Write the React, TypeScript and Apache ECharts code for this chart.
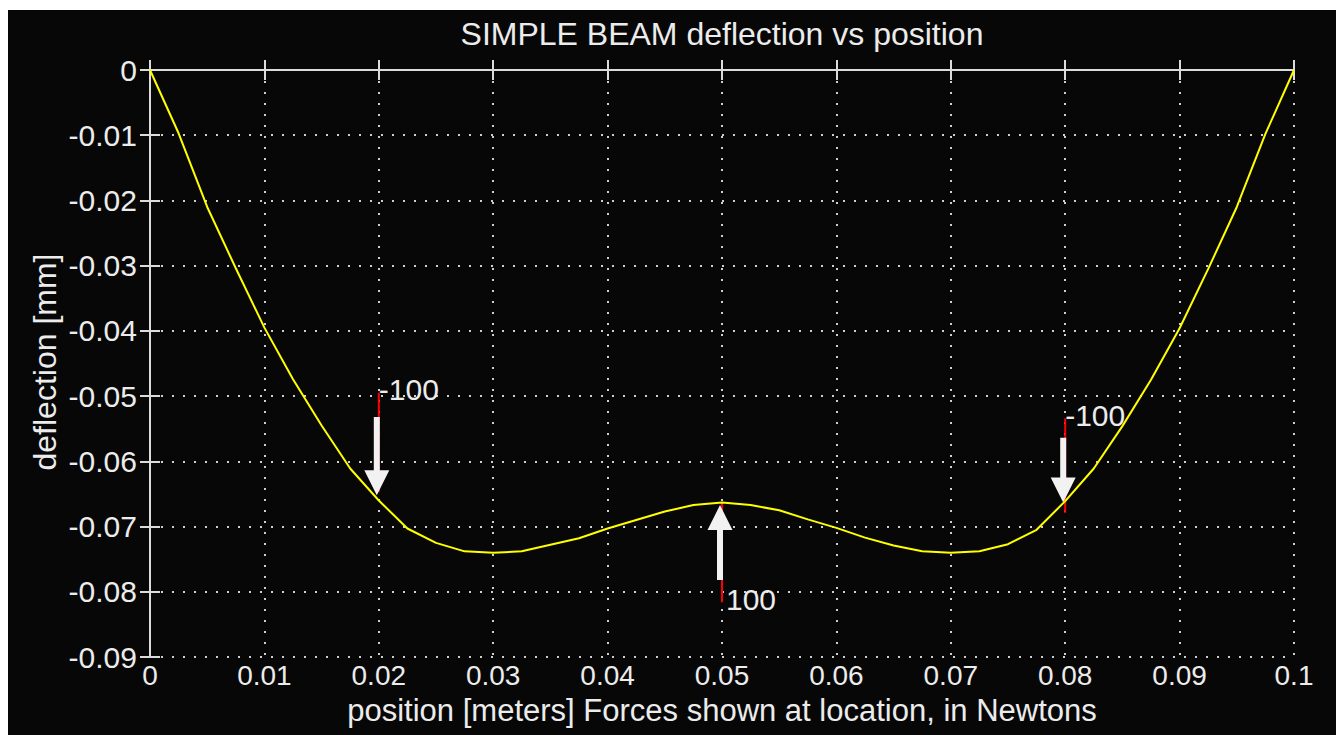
import React, { useEffect, useRef } from "react";
import * as echarts from "echarts";

// ---- data ----
const titleText = "SIMPLE BEAM deflection vs position";
const xAxisTitle = "position [meters] Forces shown at location, in Newtons";
const yAxisTitle = "deflection [mm]";

const positions = [
  0, 0.0025, 0.005, 0.0075, 0.01, 0.0125, 0.015, 0.0175, 0.02, 0.0225, 0.025,
  0.0275, 0.03, 0.0325, 0.035, 0.0375, 0.04, 0.0425, 0.045, 0.0475, 0.05,
  0.0525, 0.055, 0.0575, 0.06, 0.0625, 0.065, 0.0675, 0.07, 0.0725, 0.075,
  0.0775, 0.08, 0.0825, 0.085, 0.0875, 0.09, 0.0925, 0.095, 0.0975, 0.1,
];
const deflection = [
  0, -0.0097, -0.021, -0.0304, -0.0395, -0.0474, -0.0545, -0.0611, -0.066,
  -0.0703, -0.0725, -0.0738, -0.074, -0.0738, -0.0728, -0.0718, -0.0703,
  -0.069, -0.0677, -0.0667, -0.0663, -0.0667, -0.0675, -0.0689, -0.0702,
  -0.0717, -0.0729, -0.0738, -0.074, -0.0738, -0.0727, -0.0705, -0.0661,
  -0.0611, -0.0546, -0.0475, -0.0396, -0.0305, -0.021, -0.0098, 0,
];

// forces: location, value [N], red marker ends, white arrow tail/tip (deflection units)
const forceX = [0.02, 0.05, 0.08];
const forceN = [-100, 100, -100];
const markerFrom = [-0.0495, -0.0816, -0.0534];
const markerTo = [-0.0647, -0.0663, -0.0679];
const arrowTail = [-0.0532, -0.0782, -0.0564];
const arrowTip = [-0.0652, -0.0667, -0.0663];

const FONT = "'Liberation Sans', Arial, Helvetica, sans-serif";
const TEXT = "#ececec";
const FRAME = "#dcdcdc";
const GRIDC = "#cfcfcf";

export default function App() {
  const ref = useRef<HTMLDivElement>(null);

  useEffect(() => {
    if (!ref.current) return;
    const chart = echarts.init(ref.current, undefined, { renderer: "svg" });

    const curve = positions.map((x, i) => [x, deflection[i]]);
    const forces = forceX.map((x, i) => [
      x,
      markerFrom[i],
      markerTo[i],
      arrowTail[i],
      arrowTip[i],
      forceN[i],
    ]);
    const fmt = (v: number) => String(parseFloat(Number(v).toFixed(3)));

    const axisCommon = {
      type: "value" as const,
      axisLine: { show: true, lineStyle: { color: FRAME, width: 2 } },
      axisTick: { show: true, inside: true, length: 10, lineStyle: { color: FRAME, width: 2 } },
    };

    chart.setOption({
      animation: false,
      backgroundColor: "#070707",
      grid: { left: 142, top: 60, right: 42, bottom: 78, containLabel: false },
      xAxis: [
        {
          ...axisCommon,
          min: 0,
          max: 0.1,
          interval: 0.01,
          position: "bottom",
          axisLabel: {
            show: true,
            color: TEXT,
            fontFamily: FONT,
            fontSize: 28,
            margin: 4,
            formatter: fmt,
          },
          splitLine: {
            show: true,
            lineStyle: { color: GRIDC, width: 2, type: [2, 9] },
          },
        },
        {
          ...axisCommon,
          min: 0,
          max: 0.1,
          interval: 0.01,
          position: "top",
          axisLabel: { show: false },
          splitLine: { show: false },
        },
      ],
      yAxis: [
        {
          ...axisCommon,
          min: -0.09,
          max: 0,
          interval: 0.01,
          position: "left",
          axisLabel: {
            show: true,
            color: TEXT,
            fontFamily: FONT,
            fontSize: 30,
            margin: 13,
            formatter: fmt,
          },
          splitLine: {
            show: true,
            lineStyle: { color: GRIDC, width: 2, type: [2, 9] },
          },
        },
        {
          ...axisCommon,
          min: -0.09,
          max: 0,
          interval: 0.01,
          position: "right",
          axisLabel: { show: false },
          splitLine: { show: false },
        },
      ],
      graphic: [
        {
          type: "text",
          x: 714,
          y: 23.5,
          style: {
            text: titleText,
            fill: TEXT,
            fontFamily: FONT,
            fontSize: 32,
            align: "center",
            verticalAlign: "middle",
          },
        },
        {
          type: "text",
          x: 714,
          y: 700.5,
          style: {
            text: xAxisTitle,
            fill: TEXT,
            fontFamily: FONT,
            fontSize: 31,
            align: "center",
            verticalAlign: "middle",
          },
        },
        {
          type: "text",
          x: 36.5,
          y: 352,
          rotation: Math.PI / 2,
          style: {
            text: yAxisTitle,
            fill: TEXT,
            fontFamily: FONT,
            fontSize: 32,
            align: "center",
            verticalAlign: "middle",
          },
        },
      ],
      series: [
        {
          type: "custom",
          xAxisIndex: 0,
          yAxisIndex: 0,
          z: 2,
          encode: { x: 0, y: [1, 2, 3, 4] },
          data: forces,
          renderItem: (params: any, api: any) => {
            const x = api.value(0);
            const pFrom = api.coord([x, api.value(1)]);
            const pTo = api.coord([x, api.value(2)]);
            const pTail = api.coord([x, api.value(3)]);
            const pTip = api.coord([x, api.value(4)]);
            const f = api.value(5);
            const ax = pTail[0] - 2;
            const dir = pTip[1] > pTail[1] ? 1 : -1;
            const hl = 25;
            const hw = 12.5;
            const sw = 3;
            const baseY = pTip[1] - dir * hl;
            const labelDx = f > 0 ? 4 : 0;
            return {
              type: "group",
              children: [
                {
                  type: "line",
                  shape: { x1: pFrom[0], y1: pFrom[1], x2: pTo[0], y2: pTo[1] },
                  style: { stroke: "#ff0000", lineWidth: 2 },
                },
                {
                  type: "polygon",
                  shape: {
                    points: [
                      [ax - sw, pTail[1]],
                      [ax + sw, pTail[1]],
                      [ax + sw, baseY],
                      [ax + hw, baseY],
                      [ax, pTip[1]],
                      [ax - hw, baseY],
                      [ax - sw, baseY],
                    ],
                  },
                  style: { fill: "#f2f2f2" },
                },
                {
                  type: "text",
                  x: pFrom[0] + labelDx,
                  y: pFrom[1] - 3,
                  style: {
                    text: String(f),
                    fill: TEXT,
                    fontFamily: FONT,
                    fontSize: 30,
                    align: "left",
                    verticalAlign: "middle",
                  },
                },
              ],
            };
          },
        },
        {
          type: "line",
          xAxisIndex: 0,
          yAxisIndex: 0,
          z: 3,
          data: curve,
          symbol: "none",
          smooth: false,
          lineStyle: { color: "#ffff00", width: 2 },
          itemStyle: { color: "#ffff00" },
        },
      ],
    });

    return () => chart.dispose();
  }, []);

  return (
    <div
      ref={ref}
      style={{ position: "absolute", left: 8, top: 10, width: 1328, height: 725 }}
    />
  );
}
